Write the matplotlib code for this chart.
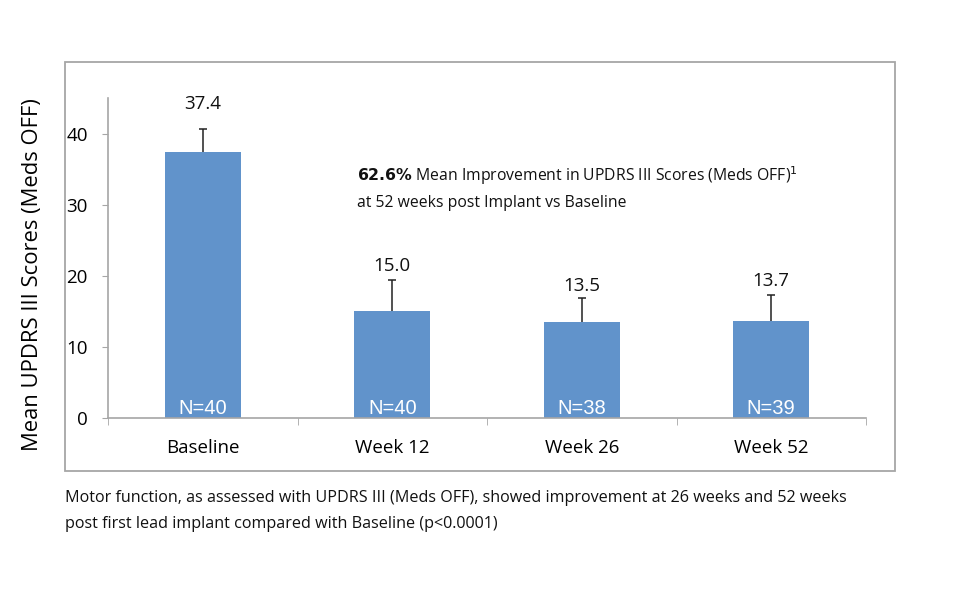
import matplotlib.pyplot as plt
import matplotlib.patches as patches
import numpy as np

plt.rcParams['font.family'] = ['Open Sans', 'DejaVu Sans']

# Data
categories = ["Baseline", "Week 12", "Week 26", "Week 52"]
means = [37.4, 15.0, 13.5, 13.7]
errors = [3.3, 4.4, 3.4, 3.6]
n_labels = ["N=40", "N=40", "N=38", "N=39"]

# Styles
bar_color = "#6193cb"
axis_color = "#a6a6a6"
label_pad = [2.2, 0.7, 0.4, 0.7]

fig = plt.figure(figsize=(9.6, 6), dpi=100)
ax = fig.add_axes([108 / 960, 182 / 600, 758 / 960, 320 / 600])

# outer frame
fig.patches.append(patches.Rectangle((65 / 960, 129 / 600), 830 / 960, 409 / 600,
                                     transform=fig.transFigure, fill=False,
                                     edgecolor=axis_color, linewidth=1.3))

x = np.arange(len(categories))
tops = np.array(means) + np.array(errors)
ax.bar(x, means, width=0.4, color=bar_color, zorder=2)
# upper error bars only
ax.vlines(x, means, tops, color='#222222', linewidth=1.1, zorder=3)
ax.plot(x, tops, ls='none', marker='_', markersize=6, markeredgewidth=1.1,
        color='#222222', zorder=3)

for xi, t, m, pad, n in zip(x, tops, means, label_pad, n_labels):
    ax.text(xi, t + pad, f"{m:.1f}", ha='center', va='bottom', fontsize=13.5,
            color='#111111')
    ax.text(xi, 0.6, n, ha='center', va='baseline', fontsize=14.5,
            color='white', family='Liberation Sans')

ax.set_xlim(-0.5, 3.5)
ax.set_ylim(0, 45)
ax.set_yticks([0, 10, 20, 30, 40])
ax.set_xticks(x)
ax.set_xticklabels(categories, fontsize=13.5)
ax.set_xticks(np.arange(-0.5, 4, 1), minor=True)
ax.tick_params(axis='x', which='major', length=0, pad=15)
ax.tick_params(axis='x', which='minor', length=5, color=axis_color, direction='out')
ax.tick_params(axis='y', length=4.5, color=axis_color, labelsize=13.5, pad=10)

for s in ['top', 'right']:
    ax.spines[s].set_visible(False)
for s in ['left', 'bottom']:
    ax.spines[s].set_color(axis_color)
    ax.spines[s].set_linewidth(1.2)

fig.text(33 / 960, 1 - 275 / 600, "Mean UPDRS III Scores (Meds OFF)", rotation=90,
         ha='center', va='center', fontsize=15.8)

# annotation
fig.text(357 / 960, 1 - 176 / 600,
         r"$\bf{62.6\%}$ Mean Improvement in UPDRS III Scores (Meds OFF)$^{1}$",
         ha='left', va='center', fontsize=11.3, color='#111111')
fig.text(357 / 960, 1 - 203 / 600, "at 52 weeks post Implant vs Baseline",
         ha='left', va='center', fontsize=11.3, color='#111111')

fig.text(65 / 960, 1 - 498 / 600,
         "Motor function, as assessed with UPDRS III (Meds OFF), showed improvement at 26 weeks and 52 weeks",
         ha='left', va='center', fontsize=11.6, color='#111111')
fig.text(65 / 960, 1 - 524 / 600,
         "post first lead implant compared with Baseline (p<0.0001)",
         ha='left', va='center', fontsize=11.6, color='#111111')

fig.savefig("out.png", dpi=100)
